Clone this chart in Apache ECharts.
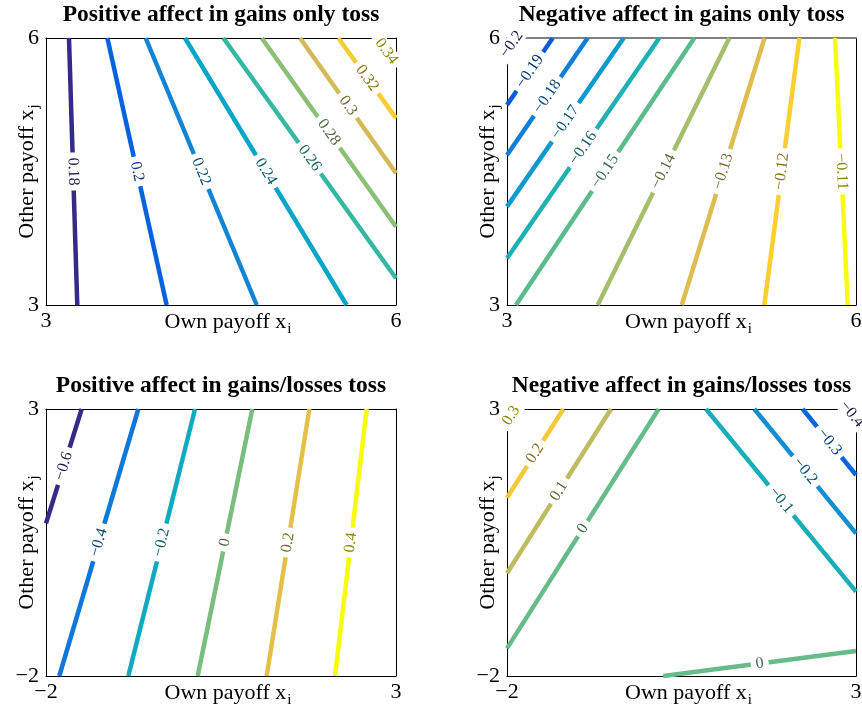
<!DOCTYPE html>
<html><head><meta charset="utf-8">
<script src="https://cdn.jsdelivr.net/npm/echarts@6/dist/echarts.min.js"></script>
<style>html,body{margin:0;padding:0;background:#fff}#c{width:862px;height:708px}</style>
</head><body><div id="c"></div>
<script>
// ---------------- DATA ----------------
const titles = [
  'Positive affect in gains only toss',
  'Negative affect in gains only toss',
  'Positive affect in gains/losses toss',
  'Negative affect in gains/losses toss'
];
const xLimits = [[3, 6], [3, 6], [-2, 3], [-2, 3]];
const yLimits = [[3, 6], [3, 6], [-2, 3], [-2, 3]];
const xTickValues = [[3, 6], [3, 6], [-2, 3], [-2, 3]];
const yTickValues = [[3, 6], [3, 6], [-2, 3], [-2, 3]];
const xAxisName = 'Own payoff x';
const xAxisSub = 'i';
const yAxisName = 'Other payoff x';
const yAxisSub = 'j';

// Panel 1: positive affect, gains only (contour level, start point, end point)
const p1Levels = [0.18, 0.2, 0.22, 0.24, 0.26, 0.28, 0.3, 0.32, 0.34];
const p1Start = [[3.197, 6], [3.526, 6], [3.854, 6], [4.191, 6], [4.52, 6], [4.849, 6], [5.177, 6], [5.506, 6], [5.834, 6]];
const p1End = [[3.268, 3], [4.034, 3], [4.806, 3], [5.577, 3], [6, 3.30], [6, 3.88], [6, 4.48], [6, 5.10], [6, 5.70]];

// Panel 2: negative affect, gains only
const p2Levels = [-0.2, -0.19, -0.18, -0.17, -0.16, -0.15, -0.14, -0.13, -0.12, -0.11];
const p2Start = [[3, 5.854], [3, 5.247], [3, 4.685], [3, 4.105], [3, 3.525], [3.077, 3], [3.780, 3], [4.502, 3], [5.212, 3], [5.929, 3]];
const p2End = [[3.078, 6], [3.393, 6], [3.693, 6], [4.003, 6], [4.309, 6], [4.610, 6], [4.911, 6], [5.214, 6], [5.513, 6], [5.820, 6]];

// Panel 3: positive affect, gains/losses
const p3Levels = [-0.6, -0.4, -0.2, 0, 0.2, 0.4];
const p3Start = [[-2, 0.859], [-1.810, -2], [-0.824, -2], [0.167, -2], [1.152, -2], [2.129, -2]];
const p3End = [[-1.490, 3], [-0.681, 3], [0.129, 3], [0.947, 3], [1.762, 3], [2.581, 3]];

// Panel 4: negative affect, gains/losses
const p4Levels = [0.3, 0.2, 0.1, 0, 0, -0.1, -0.2, -0.3, -0.4];
const p4Start = [[-2, 2.75], [-2, 1.339], [-2, -0.077], [-2, -1.482], [0.239, -2], [0.851, 3], [1.543, 3], [2.236, 3], [2.88, 3]];
const p4End = [[-1.879, 3], [-1.193, 3], [-0.510, 3], [0.173, 3], [3, -1.532], [3, -0.421], [3, 0.672], [3, 1.764], [3, 2.81]];

// ---------------- STYLE / LAYOUT ----------------
const FONT = 'Liberation Serif';
const boxes = [
  {left: 46, top: 38, width: 350, height: 267},
  {left: 507, top: 38, width: 349, height: 267},
  {left: 46, top: 409, width: 350, height: 267},
  {left: 507, top: 409, width: 349, height: 267}
];
const panels = [
  {levels: p1Levels, start: p1Start, end: p1End},
  {levels: p2Levels, start: p2Start, end: p2End},
  {levels: p3Levels, start: p3Start, end: p3End},
  {levels: p4Levels, start: p4Start, end: p4End}
];

// parula colormap anchors
const parulaAnchors = [
  [0, [53, 42, 135]], [8, [3, 99, 225]], [16, [20, 133, 212]], [24, [6, 167, 198]],
  [32, [56, 185, 158]], [40, [146, 191, 115]], [48, [217, 186, 86]], [56, [252, 206, 46]], [63, [249, 251, 14]]
];
function parula(t) {
  const idx = Math.max(0, Math.min(1, t)) * 63;
  for (let i = 0; i < parulaAnchors.length - 1; i++) {
    const [a, ca] = parulaAnchors[i], [b, cb] = parulaAnchors[i + 1];
    if (idx <= b) {
      const f = (idx - a) / (b - a);
      return ca.map((v, k) => Math.round(v + (cb[k] - v) * f));
    }
  }
  return parulaAnchors[parulaAnchors.length - 1][1];
}
const rgb = c => 'rgb(' + c.join(',') + ')';
const dark = c => rgb(c.map(v => Math.round(v * 0.55)));
const fmt = v => String(Math.round(v * 1000) / 1000).replace('-', '\u2212');

const title = [], grid = [], xAxis = [], yAxis = [], series = [];
const nameRich = {
  a: {fontSize: 22, fontFamily: FONT, color: '#000'},
  b: {fontSize: 15, fontFamily: FONT, color: '#000', padding: [15, 0, 0, 1]}
};

boxes.forEach((bx, i) => {
  const [x0, x1] = xLimits[i], [y0, y1] = yLimits[i];
  title.push({
    text: titles[i], left: bx.left + bx.width / 2, top: bx.top - 35, textAlign: 'center', padding: 0,
    textStyle: {fontFamily: FONT, fontWeight: 'bold', fontSize: 23.5, color: '#000'}
  });
  grid.push({left: bx.left, top: bx.top, width: bx.width, height: bx.height, show: false,
    containLabel: false, outerBoundsMode: 'none'});
  const topLine = i === 1 ? {color: '#808080', width: 2} : {color: '#000', width: 1};
  // bottom (labelled) x axis
  xAxis.push({
    type: 'value', gridIndex: i, min: x0, max: x1, position: 'bottom',
    axisLine: {show: true, onZero: false, lineStyle: {color: '#000', width: 1}},
    axisTick: {show: false}, splitLine: {show: false},
    axisLabel: {customValues: xTickValues[i], margin: 5, fontSize: 22, fontFamily: FONT, color: '#000', formatter: v => fmt(v)},
    name: '{a|' + xAxisName + '}{b|' + xAxisSub + '}', nameLocation: 'middle', nameGap: 2,
    nameMoveOverlap: false,
    nameTextStyle: {padding: [0, 0, 0, 14], rich: nameRich}
  });
  // top frame
  xAxis.push({
    type: 'value', gridIndex: i, min: x0, max: x1, position: 'top',
    axisLine: {show: true, onZero: false, lineStyle: topLine},
    axisTick: {show: false}, splitLine: {show: false}, axisLabel: {show: false}
  });
  yAxis.push({
    type: 'value', gridIndex: i, min: y0, max: y1, position: 'left',
    axisLine: {show: true, onZero: false, lineStyle: {color: '#000', width: 1}},
    axisTick: {show: false}, splitLine: {show: false},
    axisLabel: {customValues: yTickValues[i], margin: 7, fontSize: 22, fontFamily: FONT, color: '#000', formatter: v => fmt(v)},
    name: '{a|' + yAxisName + '}{b|' + yAxisSub + '}', nameLocation: 'middle', nameGap: 4,
    nameMoveOverlap: false,
    nameTextStyle: {rich: nameRich}
  });
  yAxis.push({
    type: 'value', gridIndex: i, min: y0, max: y1, position: 'right',
    axisLine: {show: true, onZero: false, lineStyle: {color: '#000', width: 1}},
    axisTick: {show: false}, splitLine: {show: false}, axisLabel: {show: false}
  });

  const pn = panels[i];
  const cmin = Math.min(...pn.levels), cmax = Math.max(...pn.levels);
  pn.levels.forEach((lv, k) => {
    const s = pn.start[k], e = pn.end[k];
    const col = parula((lv - cmin) / (cmax - cmin));
    const dxp = (e[0] - s[0]) * bx.width / (x1 - x0);
    const dyp = (e[1] - s[1]) * bx.height / (y1 - y0);
    let ang = Math.atan2(dyp, dxp) * 180 / Math.PI;
    if (ang > 90) ang -= 180;
    if (ang <= -90) ang += 180;
    const mid = [(s[0] + e[0]) / 2, (s[1] + e[1]) / 2];
    series.push({
      type: 'line', xAxisIndex: i * 2, yAxisIndex: i * 2, data: [s, e],
      showSymbol: false, symbol: 'none', clip: true, silent: true, animation: false,
      lineStyle: {color: rgb(col), width: 4.5},
      markPoint: {
        symbol: 'circle', symbolSize: 1, silent: true, animation: false,
        itemStyle: {color: 'rgba(0,0,0,0)'},
        data: [{coord: mid, value: lv}],
        label: {
          show: true, position: 'inside', rotate: ang, formatter: fmt(lv),
          color: dark(col), backgroundColor: '#fff', padding: [0, 5],
          fontSize: 16, fontFamily: FONT
        }
      }
    });
  });
});

const chart = echarts.init(document.getElementById('c'), null, {renderer: 'canvas'});
chart.setOption({animation: false, textStyle: {fontFamily: FONT}, title, grid, xAxis, yAxis, series});
</script></body></html>
